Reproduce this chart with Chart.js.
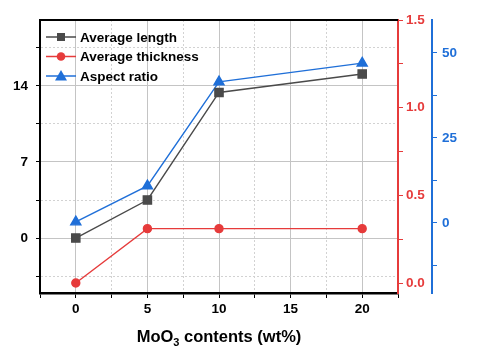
<!DOCTYPE html>
<html>
<head>
<meta charset="utf-8">
<script src="https://cdn.jsdelivr.net/npm/chart.js@4/dist/chart.umd.min.js"></script>
<style>
  html, body { margin: 0; padding: 0; background: #fff; }
  #wrap { width: 478px; height: 351px; }
</style>
</head>
<body>
<div id="wrap"><canvas id="c" width="478" height="351"></canvas></div>
<script>
// data
const xValues = [0, 5, 10, 20]
const avgLength = [0, 3.5, 13.4, 15.1]
const avgThickness = [0, 0.31, 0.31, 0.31]
const aspectRatio = [0.3, 10.9, 41.5, 47]

// tick positions (major ones get labels)
const xTicks = [-2.5, 0, 2.5, 5, 7.5, 10, 12.5, 15, 17.5, 20, 22.5]
const xLabels = [0, 5, 10, 15, 20]
const leftTicks = [-3.5, 0, 3.5, 7, 10.5, 14, 17.5]
const leftLabels = [0, 7, 14]
const redTicks = [0, 0.25, 0.5, 0.75, 1.0, 1.25, 1.5]
const redLabels = [0, 0.5, 1.0, 1.5]
const blueTicks = [-12.5, 0, 12.5, 25, 37.5, 50]
const blueLabels = [0, 25, 50]

const BLACK = '#4a4a4a'
const RED = '#e63b3b'
const BLUE = '#1f6fd8'
const FONT = '"Liberation Sans", Arial, sans-serif'

const pts = (ys) => xValues.map((x, i) => ({ x: x, y: ys[i] }))
const setTicks = (arr) => (scale) => { scale.ticks = arr.map(v => ({ value: v })) }
const isMajor = (arr, v) => arr.some(m => Math.abs(m - v) < 1e-6)

const frame = {
    id: 'frame',
    afterDatasetsDraw(chart) {
        const { ctx, chartArea } = chart
        ctx.save()
        ctx.strokeStyle = '#000'
        ctx.lineWidth = 2
        ctx.beginPath()
        ctx.moveTo(chartArea.left - 1, chartArea.top)
        ctx.lineTo(chartArea.right, chartArea.top)
        ctx.stroke()

        // legend with line-marker-line symbols
        const x0 = chartArea.left + 6
        let y = chartArea.top + 17
        ctx.font = 'bold 13.5px ' + FONT
        ctx.textBaseline = 'middle'
        chart.data.datasets.forEach(ds => {
            ctx.strokeStyle = ds.borderColor
            ctx.fillStyle = ds.borderColor
            ctx.lineWidth = 1.5
            ctx.beginPath()
            ctx.moveTo(x0, y)
            ctx.lineTo(x0 + 30, y)
            ctx.stroke()
            const cx = x0 + 15
            ctx.beginPath()
            if (ds.pointStyle === 'rect') {
                ctx.rect(cx - 4, y - 4, 8, 8)
            } else if (ds.pointStyle === 'circle') {
                ctx.arc(cx, y, 4.3, 0, Math.PI * 2)
            } else {
                ctx.moveTo(cx, y - 6)
                ctx.lineTo(cx + 6, y + 4.5)
                ctx.lineTo(cx - 6, y + 4.5)
                ctx.closePath()
            }
            ctx.fill()
            ctx.fillStyle = '#000'
            ctx.fillText(ds.label, x0 + 34, y + 1)
            y += 19.5
        })

        // x axis title with a real subscript
        const xs = chart.scales.x
        const parts = [['MoO', 16.5, 0], ['3', 11, 4], [' contents (wt%)', 16.5, 0]]
        let w = 0
        parts.forEach(p => { ctx.font = 'bold ' + p[1] + 'px ' + FONT; w += ctx.measureText(p[0]).width })
        let tx = (xs.left + xs.right) / 2 - w / 2
        const base = 342
        ctx.fillStyle = '#000'
        ctx.textBaseline = 'alphabetic'
        parts.forEach(p => {
            ctx.font = 'bold ' + p[1] + 'px ' + FONT
            ctx.fillText(p[0], tx, base + p[2])
            tx += ctx.measureText(p[0]).width
        })
        ctx.restore()
    }
}

const gridColor = (majors) => (c) => c.tick && isMajor(majors, c.tick.value) ? '#c4c4c4' : '#d2d2d2'
const gridDash = (majors) => (c) => (c.tick && !isMajor(majors, c.tick.value)) ? [2, 2] : []

new Chart(document.getElementById('c'), {
    type: 'line',
    data: {
        datasets: [
            {
                label: 'Average length',
                data: pts(avgLength),
                borderColor: BLACK,
                backgroundColor: BLACK,
                pointStyle: 'rect',
                pointRadius: 5.8,
                borderWidth: 1.4,
                yAxisID: 'y'
            },
            {
                label: 'Average thickness',
                data: pts(avgThickness),
                borderColor: RED,
                backgroundColor: RED,
                pointStyle: 'circle',
                pointRadius: 4,
                borderWidth: 1.4,
                yAxisID: 'y1'
            },
            {
                label: 'Aspect ratio',
                data: pts(aspectRatio),
                borderColor: BLUE,
                backgroundColor: BLUE,
                pointStyle: 'triangle',
                pointRadius: 5.8,
                borderWidth: 1.4,
                yAxisID: 'y2'
            }
        ]
    },
    options: {
        responsive: false,
        animation: false,
        layout: { padding: { top: 20, left: 0, right: 16, bottom: 2 } },
        plugins: { legend: { display: false }, tooltip: { enabled: false } },
        scales: {
            x: {
                type: 'linear',
                min: -2.5,
                max: 22.5,
                afterBuildTicks: setTicks(xTicks),
                afterFit: (s) => { s.height = 56 },
                ticks: {
                    color: '#000',
                    padding: 3,
                    font: { family: FONT, size: 13.5, weight: 'bold' },
                    callback: (v) => isMajor(xLabels, v) ? String(v) : ''
                },
                grid: {
                    color: gridColor(xLabels),
                    lineWidth: 1,
                    tickColor: '#000',
                    tickLength: 5
                },
                border: { color: '#000', width: 2.5, dash: gridDash(xLabels) }
            },
            y: {
                position: 'left',
                min: -5.06,
                max: 20.07,
                afterBuildTicks: setTicks(leftTicks),
                afterFit: (s) => { s.width = 40 },
                ticks: {
                    color: '#000',
                    padding: 8,
                    font: { family: FONT, size: 13.5, weight: 'bold' },
                    callback: (v) => isMajor(leftLabels, v) ? String(v) : ''
                },
                grid: {
                    color: gridColor(leftLabels),
                    tickColor: '#000',
                    tickLength: 4
                },
                border: { color: '#000', width: 2, dash: gridDash(leftLabels) }
            },
            y1: {
                position: 'right',
                min: -0.057,
                max: 1.5,
                afterBuildTicks: setTicks(redTicks),
                afterFit: (s) => { s.width = 34 },
                ticks: {
                    color: RED,
                    padding: 3,
                    font: { family: FONT, size: 13.5, weight: 'bold' },
                    callback: (v) => isMajor(redLabels, v) ? v.toFixed(1) : ''
                },
                grid: { drawOnChartArea: false, tickColor: RED, tickLength: 5 },
                border: { color: RED, width: 2 }
            },
            y2: {
                position: 'right',
                min: -20.6,
                max: 59.7,
                afterBuildTicks: setTicks(blueTicks),
                afterFit: (s) => { s.width = 30 },
                ticks: {
                    color: BLUE,
                    padding: 5,
                    font: { family: FONT, size: 13.5, weight: 'bold' },
                    callback: (v) => isMajor(blueLabels, v) ? String(v) : ''
                },
                grid: { drawOnChartArea: false, tickColor: BLUE, tickLength: 5 },
                border: { color: BLUE, width: 2 }
            }
        }
    },
    plugins: [frame]
})
</script>
</body>
</html>
